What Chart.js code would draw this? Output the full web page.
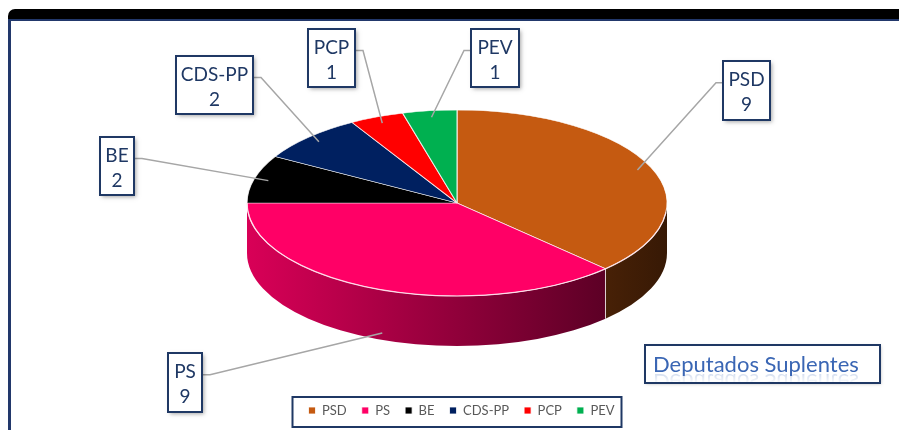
<!DOCTYPE html>
<html>
<head>
<meta charset="utf-8">
<script src="https://cdn.jsdelivr.net/npm/chart.js@4.4.1/dist/chart.umd.min.js"></script>
<style>
  html, body { margin: 0; padding: 0; background: #fff; width: 899px; height: 430px; overflow: hidden; }
  #topbar { position: absolute; left: 8px; top: 9px; right: 0; height: 10px; background: #000; border-top-left-radius: 7px; }
  #frame { position: absolute; left: 8px; top: 19px; right: -4px; height: 440px; border-left: 3px solid #22386b; border-top: 2px solid #22386b; }
  #chart { position: absolute; left: 0; top: 0; }
</style>
</head>
<body>
<div id="topbar"></div>
<div id="frame"></div>
<canvas id="chart" width="899" height="430"></canvas>
<script>
var parties = ['PSD', 'PS', 'BE', 'CDS-PP', 'PCP', 'PEV'];
var seats = [9, 9, 2, 2, 1, 1];
var partyColors = ['#C55A11', '#FF0066', '#000000', '#002060', '#FF0000', '#00B050'];
var chartTitle = 'Deputados Suplentes';

// where the flattened pie sits on the page
var PIE = { cx: 457, cy: 203, rx: 210, ry: 93, depth: 50 };
// label boxes, same order as parties
var labelBoxes = [
    { x: 723, y: 61, w: 47, h: 59 },
    { x: 168, y: 353, w: 34, h: 59 },
    { x: 100, y: 137, w: 34, h: 58 },
    { x: 176, y: 56, w: 77, h: 58 },
    { x: 308, y: 29, w: 47, h: 58 },
    { x: 471, y: 29, w: 48, h: 58 }
];
var NAVY = '#1F3864';

function shade(hex, f) {
    var n = parseInt(hex.slice(1), 16);
    var r = Math.round(((n >> 16) & 255) * f);
    var g = Math.round(((n >> 8) & 255) * f);
    var b = Math.round((n & 255) * f);
    return 'rgb(' + r + ',' + g + ',' + b + ')';
}

var pie3d = {
    id: 'pie3d',
    beforeDatasetsDraw: function(chart) {
        var ctx = chart.ctx;
        var arcs = chart.getDatasetMeta(0).data;
        // side walls first (only the front half can be seen)
        arcs.forEach(function(arc, i) {
            var lo = Math.max(arc.startAngle, 0), hi = Math.min(arc.endAngle, Math.PI);
            if (hi <= lo) return;
            var grad = ctx.createLinearGradient(PIE.cx - PIE.rx, 0, PIE.cx + PIE.rx, 0);
            grad.addColorStop(0, shade(partyColors[i], 0.85));
            grad.addColorStop(1, shade(partyColors[i], 0.28));
            ctx.beginPath();
            ctx.ellipse(PIE.cx, PIE.cy + PIE.depth, PIE.rx, PIE.ry, 0, lo, hi, false);
            ctx.ellipse(PIE.cx, PIE.cy, PIE.rx, PIE.ry, 0, hi, lo, true);
            ctx.closePath();
            ctx.fillStyle = grad;
            ctx.fill();
            if (arc.startAngle > 0 && arc.startAngle < Math.PI) {
                var ex = PIE.cx + PIE.rx * Math.cos(arc.startAngle);
                var ey = PIE.cy + PIE.ry * Math.sin(arc.startAngle);
                ctx.beginPath();
                ctx.moveTo(ex, ey);
                ctx.lineTo(ex, ey + PIE.depth);
                ctx.strokeStyle = 'rgba(255,255,255,0.75)';
                ctx.lineWidth = 1;
                ctx.stroke();
            }
        });
        // squash the real pie into the top face
        var a = arcs[0];
        var R = a.outerRadius;
        ctx.save();
        ctx.translate(PIE.cx, PIE.cy);
        ctx.scale(PIE.rx / R, PIE.ry / R);
        ctx.translate(-a.x, -a.y);
    },
    afterDatasetsDraw: function(chart) {
        var ctx = chart.ctx;
        ctx.restore();
        var arcs = chart.getDatasetMeta(0).data;

        // light rim on the front edge
        ctx.beginPath();
        ctx.ellipse(PIE.cx, PIE.cy, PIE.rx, PIE.ry, 0, 0.1, Math.PI, false);
        ctx.strokeStyle = 'rgba(255,230,240,0.85)';
        ctx.lineWidth = 1.2;
        ctx.stroke();

        // leader lines + label boxes
        arcs.forEach(function(arc, i) {
            var m = (arc.startAngle + arc.endAngle) / 2;
            var ax = PIE.cx + PIE.rx * 0.93 * Math.cos(m);
            var ay = PIE.cy + PIE.ry * 0.93 * Math.sin(m);
            if (Math.sin(m) > 0.5) ay += PIE.depth;
            var b = labelBoxes[i];
            var right = ax > b.x + b.w / 2;
            var sx = right ? b.x + b.w : b.x;
            var sy = b.y + b.h * 0.37;
            ctx.beginPath();
            ctx.moveTo(sx, sy);
            ctx.lineTo(sx + (right ? 8 : -7), sy);
            ctx.lineTo(ax, ay);
            ctx.strokeStyle = '#A6A6A6';
            ctx.lineWidth = 1.5;
            ctx.stroke();

            ctx.save();
            ctx.shadowColor = 'rgba(0,0,0,0.35)';
            ctx.shadowBlur = 4;
            ctx.shadowOffsetX = 2;
            ctx.shadowOffsetY = 2;
            ctx.fillStyle = '#fff';
            ctx.fillRect(b.x, b.y, b.w, b.h);
            ctx.restore();
            ctx.strokeStyle = NAVY;
            ctx.lineWidth = 2;
            ctx.strokeRect(b.x, b.y, b.w, b.h);

            ctx.fillStyle = NAVY;
            ctx.font = '19px Lato';
            ctx.textAlign = 'center';
            ctx.textBaseline = 'alphabetic';
            ctx.fillText(parties[i], b.x + b.w / 2, b.y + 25, b.w - 6);
            ctx.fillText(String(seats[i]), b.x + b.w / 2, b.y + 50);
        });
    },
    afterDraw: function(chart) {
        var ctx = chart.ctx;
        // frame round the legend
        var hb = chart.legend.legendHitBoxes;
        if (hb && hb.length) {
            var l = hb[0].left - 16;
            var last = hb[hb.length - 1];
            var r = last.left + last.width + 7;
            var t = hb[0].top - 7, btm = hb[0].top + hb[0].height + 10;
            ctx.strokeStyle = NAVY;
            ctx.lineWidth = 2;
            ctx.strokeRect(l, t, r - l, btm - t);
        }

        // title box
        var tx = 645, ty = 345, tw = 235, th = 38;
        ctx.save();
        ctx.shadowColor = 'rgba(0,0,0,0.25)';
        ctx.shadowBlur = 3;
        ctx.shadowOffsetX = 1;
        ctx.shadowOffsetY = 1;
        ctx.fillStyle = '#fff';
        ctx.fillRect(tx, ty, tw, th);
        ctx.restore();
        ctx.strokeStyle = NAVY;
        ctx.lineWidth = 2;
        ctx.strokeRect(tx, ty, tw, th);

        ctx.font = '22px Lato';
        ctx.textAlign = 'left';
        ctx.textBaseline = 'alphabetic';
        var base = 372;
        ctx.fillStyle = '#3A66B4';
        ctx.fillText(chartTitle, 653, base, 219);
        // faint reflection, fading out
        ctx.save();
        ctx.beginPath();
        ctx.rect(tx + 1, base + 1, tw - 2, ty + th - base - 2);
        ctx.clip();
        ctx.translate(0, 2 * base + 2);
        ctx.scale(1, -1);
        var fade = ctx.createLinearGradient(0, base, 0, base - 10);
        fade.addColorStop(0, 'rgba(58,102,180,0.22)');
        fade.addColorStop(1, 'rgba(58,102,180,0)');
        ctx.fillStyle = fade;
        ctx.fillText(chartTitle, 653, base, 219);
        ctx.restore();
    }
};

var chart = new Chart(document.getElementById('chart').getContext('2d'), {
    type: 'pie',
    data: {
        labels: parties,
        datasets: [{
            data: seats,
            backgroundColor: partyColors,
            borderColor: 'rgba(255,255,255,0.8)',
            borderWidth: 1
        }]
    },
    options: {
        responsive: false,
        animation: false,
        layout: { padding: { left: 24, bottom: 3, top: 20 } },
        plugins: {
            legend: {
                position: 'bottom',
                labels: {
                    boxWidth: 7,
                    boxHeight: 7,
                    padding: 15,
                    color: '#595959',
                    font: { family: 'Lato', size: 13 }
                }
            },
            tooltip: { enabled: false }
        }
    },
    plugins: [pie3d]
});
</script>
</body>
</html>
